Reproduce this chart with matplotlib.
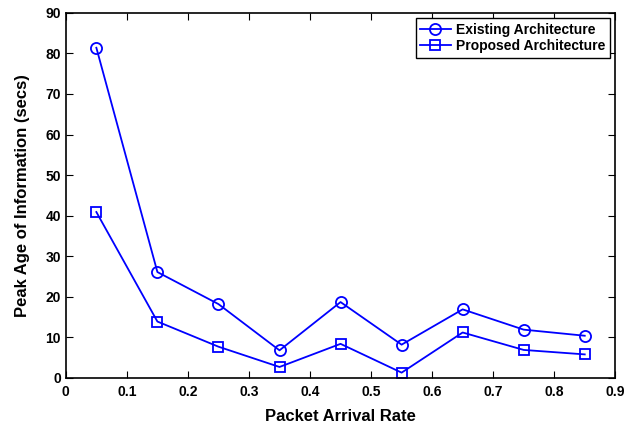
import matplotlib
matplotlib.use('Agg')
import matplotlib.pyplot as plt
import numpy as np

plt.rcParams['font.family'] = ['Liberation Sans', 'DejaVu Sans']
plt.rcParams['font.weight'] = 'bold'

rate = [0.05, 0.15, 0.25, 0.35, 0.45, 0.55, 0.65, 0.75, 0.85]
existing = [81.4, 26.1, 18.2, 6.8, 18.7, 8.2, 16.9, 11.9, 10.4]
proposed = [40.9, 13.9, 7.7, 2.7, 8.4, 1.3, 11.2, 6.9, 5.8]

fig = plt.figure(figsize=(6.33, 4.28), dpi=100)
ax = fig.add_axes([0.104, 0.117, 0.868, 0.853])

ax.plot(rate, existing, '-o', color='blue', lw=1.3, ms=8,
        mfc='none', mec='blue', mew=1.3, label='Existing Architecture')
ax.plot(rate, proposed, '-s', color='blue', lw=1.3, ms=7,
        mfc='none', mec='blue', mew=1.3, label='Proposed Architecture')

ax.set_xlim(0, 0.9)
ax.set_ylim(0, 90)
ax.set_xticks(np.arange(0, 0.91, 0.1))
ax.set_xticklabels(['0', '0.1', '0.2', '0.3', '0.4', '0.5', '0.6', '0.7', '0.8', '0.9'])
ax.set_yticks(np.arange(0, 91, 10))
ax.tick_params(direction='in', top=True, right=True, labelsize=10, length=5, width=0.8)
ax.tick_params(axis='x', pad=5)
for s in ax.spines.values():
    s.set_linewidth(1.2)

ax.set_xlabel('Packet Arrival Rate', fontsize=12, fontweight='bold', labelpad=7)
ax.set_ylabel('Peak Age of Information (secs)', fontsize=12, fontweight='bold', labelpad=11)

leg = ax.legend(loc='upper right', fontsize=10, fancybox=False, framealpha=1,
                edgecolor='black', handlelength=2.2, borderpad=0.3,
                labelspacing=0.2, handletextpad=0.4, borderaxespad=0.4)
leg.get_frame().set_linewidth(1.0)

fig.savefig('out.png', dpi=100)
